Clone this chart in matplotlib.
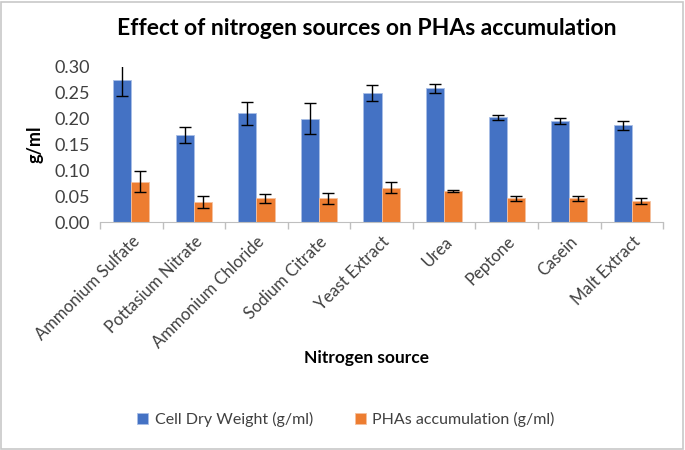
import matplotlib
matplotlib.use("Agg")
import matplotlib.pyplot as plt
import numpy as np
from matplotlib.patches import Rectangle

categories = ["Ammonium Sulfate", "Pottasium Nitrate", "Ammonium Chloride", "Sodium Citrate",
              "Yeast Extract", "Urea", "Peptone", "Casein", "Malt Extract"]
cdw = [0.274, 0.168, 0.210, 0.200, 0.249, 0.258, 0.202, 0.195, 0.187]
cdw_err = [0.030, 0.015, 0.022, 0.029, 0.016, 0.009, 0.004, 0.006, 0.009]
pha = [0.078, 0.039, 0.046, 0.046, 0.067, 0.060, 0.046, 0.046, 0.041]
pha_err = [0.020, 0.011, 0.008, 0.010, 0.011, 0.002, 0.005, 0.005, 0.006]
yticks = [0.00, 0.05, 0.10, 0.15, 0.20, 0.25, 0.30]

plt.rcParams['font.family'] = ['Lato', 'DejaVu Sans']

fig = plt.figure(figsize=(6.85, 4.5), dpi=100)
ax = fig.add_axes([0.146, 0.506, 0.822, 0.346])

x = np.arange(len(categories))
w = 0.29
blue = "#4472C4"
orange = "#ED7D31"
ax.bar(x - w/2, cdw, w, color=blue, edgecolor="#a9bfe6", linewidth=0.6,
       yerr=cdw_err, capsize=4, error_kw=dict(ecolor="black", elinewidth=1, capthick=1),
       label="Cell Dry Weight (g/ml)", zorder=2)
ax.bar(x + w/2, pha, w, color=orange, edgecolor="#f6c19f", linewidth=0.6,
       yerr=pha_err, capsize=4, error_kw=dict(ecolor="black", elinewidth=1, capthick=1),
       label="PHAs accumulation (g/ml)", zorder=2)

ax.set_xlim(-0.5, len(categories) - 0.5)
ax.set_ylim(0, 0.30)
ax.set_yticks(yticks)
ax.set_yticklabels([f"{v:.2f}" for v in yticks], fontsize=13, color="#404040")
ax.tick_params(axis="y", length=0, pad=7)

ax.set_xticks(np.arange(len(categories) + 1) - 0.5, minor=False)
ax.set_xticklabels([])
ax.set_xticks(x, minor=True)
ax.set_xticklabels(categories, minor=True, rotation=45, ha="right", rotation_mode="anchor",
                   fontsize=12, color="#404040")
ax.tick_params(axis="x", which="major", length=5, color="#bfbfbf", width=1)
ax.tick_params(axis="x", which="minor", length=0, pad=8)

for s in ["top", "right", "left"]:
    ax.spines[s].set_visible(False)
ax.spines["bottom"].set_color("#bfbfbf")

ax.set_ylabel("g/ml", fontsize=13, fontweight="bold", labelpad=8)
fig.text(0.535, 0.204, "Nitrogen source", ha="center", va="center", fontsize=12.5, fontweight="bold")
fig.text(0.535, 0.937, "Effect of nitrogen sources on PHAs accumulation", ha="center", va="center",
         fontsize=16.5, fontweight="bold")

fig.legend(loc="center", bbox_to_anchor=(0.505, 0.067), ncol=2, frameon=False, fontsize=11.5,
           handlelength=0.7, handleheight=0.7, columnspacing=2.6, handletextpad=0.4,
           labelcolor="#404040")

fig.add_artist(Rectangle((0.002, 0.003), 0.995, 0.993, transform=fig.transFigure,
                         fill=False, edgecolor="#c8c8c8", linewidth=1.2))

fig.savefig("out.png", dpi=100)
